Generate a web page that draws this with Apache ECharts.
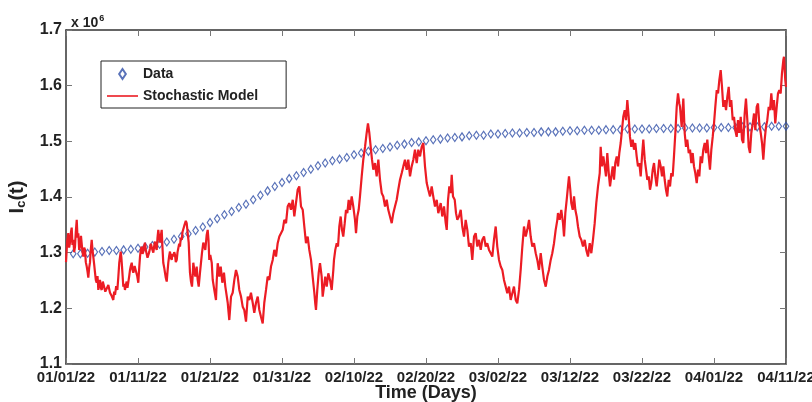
<!DOCTYPE html>
<html><head><meta charset="utf-8">
<script src="https://cdn.jsdelivr.net/npm/echarts@6/dist/echarts.min.js"></script>
<style>html,body{margin:0;padding:0;background:#fff}#c{width:812px;height:402px}</style>
</head><body><div id="c"></div>
<script>
const xTickLabels = ['01/01/22','01/11/22','01/21/22','01/31/22','02/10/22','02/20/22','03/02/22','03/12/22','03/22/22','04/01/22','04/11/22'];

const dataDays = [1,2,3,4,5,6,7,8,9,10,11,12,13,14,15,16,17,18,19,20,21,22,23,24,25,26,27,28,29,30,31,32,33,34,35,36,37,38,39,40,41,42,43,44,45,46,47,48,49,50,51,52,53,54,55,56,57,58,59,60,61,62,63,64,65,66,67,68,69,70,71,72,73,74,75,76,77,78,79,80,81,82,83,84,85,86,87,88,89,90,91,92,93,94,95,96,97,98,99,100];
const dataValues = [
1.298,1.298,1.299,1.301,1.302,1.304,1.304,1.305,1.306,1.308,
1.310,1.313,1.315,1.319,1.324,1.329,1.334,1.340,1.346,1.354,
1.361,1.368,1.374,1.381,1.387,1.395,1.403,1.411,1.419,1.426,
1.433,1.438,1.444,1.450,1.456,1.461,1.465,1.468,1.471,1.476,
1.479,1.482,1.485,1.487,1.490,1.493,1.495,1.498,1.499,1.501,
1.503,1.504,1.506,1.507,1.508,1.510,1.511,1.511,1.513,1.513,
1.514,1.515,1.515,1.516,1.516,1.517,1.517,1.517,1.518,1.519,
1.519,1.520,1.520,1.520,1.521,1.521,1.521,1.522,1.522,1.522,
1.522,1.523,1.523,1.523,1.523,1.524,1.524,1.524,1.524,1.525,
1.525,1.525,1.525,1.526,1.526,1.526,1.526,1.527,1.527,1.527];

const modelDays = [
0,0.18,0.32,0.44,0.56,0.69,0.79,0.9,1.01,1.14,
1.25,1.36,1.49,1.6,1.71,1.83,1.94,2.08,2.18,2.29,
2.4,2.53,2.64,2.75,2.88,2.99,3.1,3.22,3.33,3.44,
3.57,3.68,3.79,3.92,4.03,4.14,4.26,4.38,4.49,4.61,
4.72,4.83,4.96,5.11,5.28,5.46,5.65,5.88,6.11,6.35,
6.57,6.69,6.81,6.97,7.13,7.26,7.4,7.6,7.69,7.78,
7.88,7.96,8.08,8.19,8.31,8.43,8.54,8.65,8.78,8.89,
9,9.13,9.24,9.35,9.53,9.72,9.89,10.04,10.17,10.28,
10.39,10.51,10.63,10.74,10.86,10.97,11.08,11.21,11.32,11.43,
11.56,11.67,11.78,11.9,12.01,12.13,12.25,12.36,12.47,12.6,
12.71,12.82,12.94,13.06,13.17,13.29,13.4,13.51,13.64,13.75,
13.86,13.99,14.1,14.21,14.33,14.44,14.56,14.68,14.79,14.9,
15.03,15.14,15.25,15.38,15.49,15.6,15.72,15.83,15.94,16.07,
16.18,16.29,16.42,16.53,16.64,16.76,16.9,17.04,17.14,17.22,
17.36,17.5,17.6,17.68,17.82,17.96,18.15,18.29,18.43,18.61,
18.75,18.89,19.07,19.21,19.35,19.54,19.68,19.79,19.9,20.04,
20.24,20.38,20.6,20.83,20.94,21.07,21.21,21.29,21.49,21.71,
21.94,22.13,22.46,22.57,22.68,22.92,23.15,23.38,23.61,23.85,
24.07,24.31,24.54,24.76,25,25.24,25.46,25.69,25.93,26.15,
26.39,26.63,26.85,27.08,27.32,27.54,27.78,28.01,28.24,28.47,
28.71,28.93,29.17,29.4,29.63,29.86,30.1,30.32,30.56,30.79,
31.01,31.25,31.49,31.71,31.94,32.18,32.4,32.64,32.88,33.1,
33.33,33.57,33.79,34.03,34.26,34.49,34.61,34.72,34.9,35.1,
35.28,35.51,35.65,35.83,36.01,36.21,36.43,36.67,36.9,37.13,
37.22,37.4,37.6,37.78,37.96,38.15,38.33,38.51,38.71,38.89,
39.07,39.26,39.44,39.68,39.9,40.14,40.28,40.46,40.65,40.83,
41.07,41.29,41.53,41.76,41.94,42.13,42.32,42.5,42.68,42.92,
43.15,43.38,43.61,43.85,44.07,44.31,44.54,44.76,45,45.24,
45.46,45.69,45.93,46.15,46.39,46.63,46.85,47.08,47.32,47.54,
47.78,48.01,48.24,48.47,48.71,48.93,49.17,49.4,49.63,49.86,
50.1,50.32,50.56,50.79,51.01,51.25,51.49,51.71,52.04,52.26,
52.5,52.74,52.88,53.06,53.24,53.43,53.57,53.75,53.99,54.17,
54.35,54.58,54.82,55.04,55.28,55.51,55.74,55.97,56.21,56.43,
56.67,56.9,57.13,57.36,57.6,57.82,58.06,58.29,58.51,58.75,
58.99,59.21,59.44,59.68,59.9,60.14,60.38,60.6,60.83,61.07,
61.29,61.53,61.76,61.99,62.22,62.46,62.68,62.92,63.15,63.38,
63.61,63.85,64.07,64.31,64.54,64.76,65,65.24,65.46,65.69,
65.93,66.15,66.39,66.63,66.85,67.08,67.32,67.54,67.78,68.01,
68.24,68.33,68.57,68.79,69.03,69.17,69.35,69.54,69.72,69.86,
70.04,70.18,70.38,70.56,70.74,70.93,71.11,71.35,71.57,71.81,
72.04,72.26,72.5,72.74,72.96,73.19,73.43,73.65,73.89,74.13,
74.26,74.44,74.63,74.82,75,75.18,75.38,75.56,75.74,75.93,
76.11,76.29,76.49,76.67,76.85,77.04,77.22,77.4,77.6,77.78,
77.96,78.15,78.33,78.51,78.71,78.89,79.07,79.26,79.44,79.63,
79.82,80,80.18,80.38,80.56,80.74,80.93,81.11,81.29,81.49,
81.67,81.85,82.04,82.22,82.4,82.6,82.78,82.96,83.15,83.33,
83.51,83.71,83.89,84.07,84.26,84.44,84.63,84.82,85,85.18,
85.28,85.51,85.74,85.93,86.11,86.29,86.49,86.67,86.85,87.04,
87.22,87.4,87.6,87.78,87.96,88.15,88.33,88.51,88.71,88.89,
89.07,89.26,89.44,89.63,89.82,90,90.18,90.38,90.56,90.74,
90.93,91.11,91.29,91.49,91.67,91.85,92.04,92.22,92.4,92.6,
92.78,92.96,93.15,93.33,93.51,93.71,93.89,94.07,94.26,94.44,
94.63,94.82,95,95.18,95.38,95.56,95.74,95.93,96.11,96.29,
96.49,96.67,96.85,97.04,97.22,97.4,97.6,97.78,97.96,98.15,
98.33,98.51,98.71,98.89,99.07,99.26,99.44,99.63,99.72,99.82,99.9,100];

const modelValues = [
1.283,1.323,1.335,1.309,1.318,1.337,1.345,1.314,1.323,1.301,
1.311,1.337,1.359,1.327,1.335,1.305,1.311,1.330,1.327,1.301,
1.293,1.309,1.305,1.283,1.275,1.266,1.255,1.273,1.282,1.305,
1.323,1.305,1.293,1.278,1.264,1.251,1.246,1.258,1.233,1.244,
1.251,1.237,1.233,1.248,1.246,1.230,1.233,1.242,1.228,1.222,
1.215,1.230,1.224,1.240,1.233,1.255,1.282,1.302,1.291,1.275,
1.255,1.239,1.244,1.233,1.242,1.248,1.237,1.239,1.258,1.269,
1.276,1.282,1.269,1.264,1.276,1.273,1.258,1.246,1.273,1.293,
1.305,1.311,1.298,1.302,1.312,1.318,1.305,1.302,1.291,1.293,
1.301,1.308,1.316,1.318,1.305,1.300,1.312,1.320,1.310,1.305,
1.327,1.341,1.327,1.318,1.330,1.341,1.309,1.282,1.273,1.264,
1.255,1.248,1.266,1.282,1.294,1.302,1.291,1.287,1.298,1.293,
1.301,1.296,1.283,1.287,1.301,1.302,1.316,1.311,1.327,1.323,
1.337,1.335,1.348,1.347,1.357,1.353,1.350,1.318,1.287,1.264,
1.248,1.239,1.260,1.282,1.269,1.257,1.275,1.251,1.239,1.264,
1.282,1.300,1.318,1.312,1.305,1.332,1.341,1.323,1.287,1.296,
1.282,1.251,1.233,1.215,1.251,1.281,1.269,1.257,1.275,1.246,
1.264,1.239,1.210,1.194,1.179,1.221,1.228,1.251,1.269,1.257,
1.233,1.221,1.203,1.197,1.176,1.221,1.215,1.228,1.210,1.192,
1.210,1.221,1.197,1.185,1.173,1.210,1.233,1.257,1.251,1.275,
1.287,1.305,1.293,1.317,1.329,1.335,1.341,1.359,1.353,1.383,
1.389,1.377,1.395,1.365,1.389,1.413,1.419,1.383,1.377,1.347,
1.317,1.329,1.305,1.287,1.257,1.228,1.210,1.197,1.233,1.264,
1.281,1.257,1.221,1.239,1.257,1.239,1.263,1.251,1.233,1.269,
1.287,1.305,1.317,1.311,1.347,1.365,1.341,1.329,1.353,1.377,
1.371,1.395,1.377,1.401,1.383,1.359,1.335,1.365,1.377,1.401,
1.437,1.467,1.490,1.515,1.532,1.515,1.490,1.467,1.449,1.461,
1.437,1.467,1.431,1.407,1.401,1.383,1.395,1.377,1.365,1.353,
1.371,1.383,1.395,1.413,1.431,1.443,1.455,1.467,1.449,1.467,
1.437,1.455,1.467,1.485,1.461,1.485,1.473,1.490,1.497,1.455,
1.425,1.413,1.401,1.419,1.401,1.383,1.395,1.371,1.389,1.365,
1.383,1.353,1.341,1.395,1.419,1.407,1.440,1.401,1.395,1.371,
1.359,1.365,1.377,1.347,1.329,1.359,1.341,1.311,1.317,1.287,
1.329,1.335,1.311,1.323,1.305,1.323,1.329,1.311,1.317,1.305,
1.299,1.293,1.323,1.347,1.311,1.287,1.275,1.269,1.251,1.239,
1.227,1.239,1.215,1.227,1.239,1.215,1.209,1.233,1.269,1.311,
1.347,1.329,1.341,1.359,1.329,1.311,1.317,1.299,1.287,1.269,
1.299,1.275,1.251,1.239,1.257,1.269,1.287,1.299,1.317,1.341,
1.359,1.371,1.359,1.377,1.353,1.329,1.371,1.395,1.419,1.437,
1.413,1.389,1.377,1.401,1.377,1.365,1.347,1.329,1.323,1.311,
1.323,1.305,1.293,1.317,1.299,1.323,1.353,1.389,1.419,1.443,
1.490,1.455,1.473,1.455,1.437,1.479,1.443,1.419,1.437,1.455,
1.431,1.461,1.473,1.455,1.479,1.497,1.520,1.544,1.556,1.538,
1.574,1.544,1.508,1.490,1.503,1.485,1.497,1.473,1.455,1.461,
1.437,1.473,1.503,1.467,1.449,1.431,1.437,1.413,1.425,1.449,
1.461,1.437,1.419,1.443,1.467,1.455,1.437,1.455,1.431,1.413,
1.401,1.431,1.419,1.443,1.437,1.473,1.515,1.562,1.586,1.568,
1.562,1.526,1.577,1.515,1.490,1.503,1.479,1.485,1.461,1.479,
1.455,1.443,1.425,1.449,1.437,1.473,1.461,1.485,1.497,1.479,
1.503,1.473,1.449,1.485,1.508,1.532,1.562,1.592,1.586,1.610,
1.628,1.598,1.562,1.574,1.556,1.580,1.598,1.562,1.574,1.538,
1.544,1.520,1.508,1.538,1.515,1.544,1.503,1.497,1.550,1.577,
1.538,1.490,1.479,1.515,1.532,1.550,1.520,1.562,1.568,1.532,
1.515,1.497,1.467,1.503,1.526,1.538,1.562,1.556,1.586,1.556,
1.574,1.532,1.562,1.586,1.592,1.586,1.622,1.646,1.652,1.628,1.610,1.598];

const FONT = '"Liberation Sans", Arial, Helvetica, sans-serif';
const AXIS_COLOR = '#333';
const TICK_COLOR = '#777';
const DIAMOND = 'path://M3,0 L6,4.5 L3,9 L0,4.5 Z';

const chart = echarts.init(document.getElementById('c'), null, {renderer: 'canvas'});

const baseX = {
  type: 'value', min: 0, max: 100, interval: 10,
  axisLine: {show: true, onZero: false, lineStyle: {color: AXIS_COLOR, width: 1.5}},
  axisTick: {show: true, inside: true, length: 6, lineStyle: {color: TICK_COLOR, width: 1}},
  splitLine: {show: false}
};
const baseY = {
  type: 'value', min: 1.1, max: 1.7, interval: 0.1,
  axisLine: {show: true, onZero: false, lineStyle: {color: AXIS_COLOR, width: 1.5}},
  axisTick: {show: true, inside: true, length: 6, lineStyle: {color: TICK_COLOR, width: 1}},
  splitLine: {show: false}
};

const option = {
  animation: false,
  backgroundColor: '#fff',
  grid: {left: 66, right: 26, top: 30, bottom: 38, containLabel: false, outerBoundsMode: 'none'},
  title: {
    text: 'x 10{s|6}', left: 66, top: 9,
    textStyle: {fontFamily: FONT, fontWeight: 'bold', fontSize: 14, color: '#222',
      rich: {s: {fontFamily: FONT, fontWeight: 'bold', fontSize: 9, color: '#222', verticalAlign: 'top', padding: [0, 0, 9, 1]}}}
  },
  legend: {
    left: 101, top: 61, orient: 'vertical',
    padding: [6, 28, 5, 6], itemGap: 8, itemWidth: 31, itemHeight: 10,
    borderColor: '#222', borderWidth: 1, borderRadius: 0, backgroundColor: '#fff',
    textStyle: {fontFamily: FONT, fontWeight: 'bold', fontSize: 14, color: '#222'},
    data: [
      {name: 'Data', icon: DIAMOND},
      {name: 'Stochastic Model', icon: 'path://M0,0 L31,0 L31,1.6 L0,1.6 Z', itemStyle: {color: '#ec1c24', borderWidth: 0}}
    ]
  },
  xAxis: [
    Object.assign({}, baseX, {
      position: 'bottom',
      axisLabel: {formatter: v => xTickLabels[Math.round(v / 10)], fontFamily: FONT, fontWeight: 'bold', fontSize: 15, color: '#222', margin: 6, showMinLabel: true, showMaxLabel: true},
      name: 'Time (Days)', nameLocation: 'middle', nameGap: 20, nameMoveOverlap: false,
      nameTextStyle: {fontFamily: FONT, fontWeight: 'bold', fontSize: 18, color: '#222', verticalAlign: 'top'}
    }),
    Object.assign({}, baseX, {position: 'top', axisLabel: {show: false}})
  ],
  yAxis: [
    Object.assign({}, baseY, {
      position: 'left',
      axisLabel: {formatter: v => v.toFixed(1), fontFamily: FONT, fontWeight: 'bold', fontSize: 16, color: '#222', margin: 4},
      name: 'I{sub|c}(t)', nameLocation: 'middle', nameGap: 38, nameRotate: 90, nameMoveOverlap: false,
      nameTextStyle: {fontFamily: FONT, fontWeight: 'bold', fontSize: 20, color: '#222',
        rich: {sub: {fontFamily: FONT, fontWeight: 'bold', fontSize: 13, color: '#222', verticalAlign: 'bottom', padding: [8, 0, 0, 0]}}}
    }),
    Object.assign({}, baseY, {position: 'right', axisLabel: {show: false}})
  ],
  series: [
    {
      name: 'Data', type: 'scatter', xAxisIndex: 0, yAxisIndex: 0,
      data: dataDays.map((d, i) => [d, dataValues[i]]),
      symbol: DIAMOND, symbolSize: [5.5, 8],
      itemStyle: {color: 'rgba(255,255,255,0)', borderColor: '#2f4fa8', borderWidth: 1.2},
      z: 2, silent: true
    },
    {
      name: 'Stochastic Model', type: 'line', xAxisIndex: 0, yAxisIndex: 0,
      data: modelDays.map((d, i) => [d, modelValues[i]]),
      symbol: 'none', showSymbol: false,
      lineStyle: {color: '#ec1c24', width: 2.2, join: 'bevel'}, itemStyle: {color: '#ec1c24'},
      z: 3, silent: true
    }
  ]
};
chart.setOption(option);
</script>
</body></html>
